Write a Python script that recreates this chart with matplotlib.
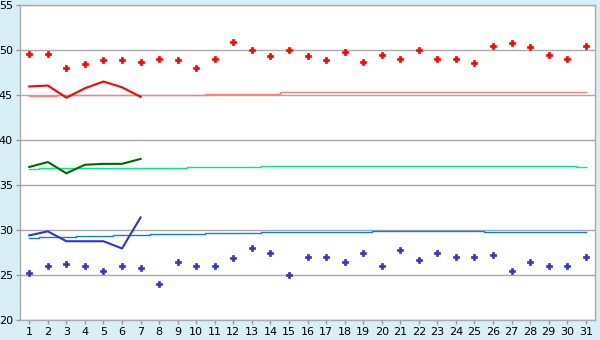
import matplotlib
matplotlib.use("Agg")
import matplotlib.pyplot as plt
import numpy as np

# day of month
days = list(range(1, 32))

# daily max / min points
max_pts = [49.6, 49.6, 48.0, 48.5, 48.85, 48.85, 48.7, 48.95, 48.85, 48.0,
           48.95, 50.85, 49.95, 49.3, 50.0, 49.3, 48.85, 49.75, 48.7, 49.5,
           49.05, 50.0, 48.95, 48.95, 48.6, 50.4, 50.75, 50.3, 49.4, 48.95, 50.4]
min_pts = [25.2, 25.95, 26.2, 26.0, 25.5, 26.0, 25.75, 23.95, 26.5, 26.0,
           26.05, 26.85, 27.95, 27.5, 24.95, 26.95, 26.95, 26.5, 27.4, 25.95,
           27.75, 26.65, 27.4, 26.95, 26.95, 27.2, 25.5, 26.5, 25.95, 25.95, 26.95]

# first week curves
week_days = [1, 2, 3, 4, 5, 6, 7]
red_week = [45.95, 46.05, 44.7, 45.75, 46.5, 45.85, 44.8]
green_week = [37.0, 37.55, 36.3, 37.25, 37.35, 37.35, 37.9]
blue_week = [29.4, 29.85, 28.75, 28.75, 28.75, 27.95, 31.4]

# normals (stepped)
red_norm = [44.9, 44.9] + [45.0] * 5 + [45.05] * 3 + [45.15] * 4 + [45.3] * 17
green_norm = [36.8] + [36.9] * 8 + [37.05] * 4 + [37.15] * 17 + [37.05]
blue_norm = ([29.07] + [29.19] * 2 + [29.3] * 2 + [29.41] * 2 + [29.52] * 3
             + [29.63] * 3 + [29.74] * 6 + [29.85] * 6 + [29.74] * 6)

plt.rcParams['font.family'] = ['DejaVu Sans']

fig = plt.figure(figsize=(6, 3.4), dpi=100, facecolor='#d9eff6')
ax = fig.add_axes([20 / 600, 1 - 320 / 340, 575 / 600, 315 / 340])
ax.set_facecolor('white')

ax.set_ylim(20, 55)
ax.set_xlim(0.5, 31.5)
ax.set_yticks(np.arange(20, 56, 5))
ax.set_xticks(days)
ax.yaxis.grid(True, color='#aaaaaa', linewidth=1)
ax.set_axisbelow(True)

for s in ax.spines.values():
    s.set_color('#aaaaaa')
    s.set_linewidth(1)
ax.tick_params(axis='both', colors='#999999', labelcolor='black', labelsize=8,
               length=3, width=1, pad=2)

ax.plot(days, red_norm, drawstyle='steps-mid', color='#ff8080', lw=1)
ax.plot(days, green_norm, drawstyle='steps-mid', color='#00ee80', lw=1)
ax.plot(days, blue_norm, drawstyle='steps-mid', color='#0a7cf0', lw=1)

ax.plot(week_days, red_week, color='#ff0000', lw=1.5)
ax.plot(week_days, green_week, color='#006600', lw=1.5)
ax.plot(week_days, blue_week, color='#3333cc', lw=1.5)

ax.plot(days, max_pts, linestyle='none', marker='P', markersize=4.2,
        color='#ff0000', markeredgewidth=0.5)
ax.plot(days, min_pts, linestyle='none', marker='P', markersize=4.2,
        color='#3333cc', markeredgewidth=0.5)

fig.savefig('out.png', dpi=100, facecolor=fig.get_facecolor())
